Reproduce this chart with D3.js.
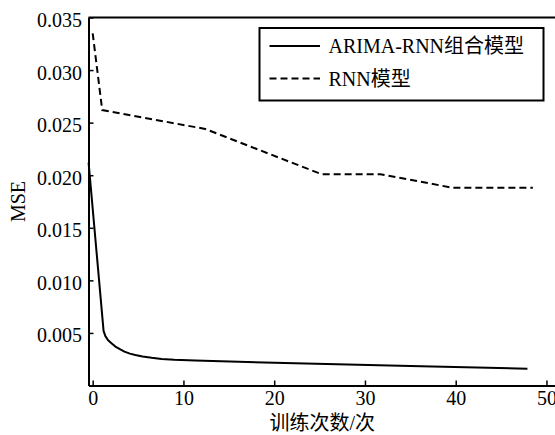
<!DOCTYPE html>
<html>
<head>
<meta charset="utf-8">
<script src="https://cdn.jsdelivr.net/npm/d3@7"></script>
<style>
  html, body { margin: 0; padding: 0; background: #fff; }
  svg { display: block; }
  text { font-family: "Liberation Serif", "Noto Sans CJK SC", serif; fill: #000; }
</style>
</head>
<body>
<svg id="chart" width="555" height="435"></svg>
<script>
// Training epochs and MSE for the combined model (solid line)
const comboEpochs = [-0.45, 1.2, 1.4, 1.7, 2.1, 2.5, 3.0, 3.5, 4.1, 4.7, 5.5, 6.5, 7.6, 9, 11.3, 22.3, 35, 47.9];
const comboMSE    = [0.0212, 0.0052, 0.0047, 0.0043, 0.0040, 0.0037, 0.00345, 0.00322, 0.00303, 0.0029, 0.00276, 0.00263, 0.00253, 0.00245, 0.00237, 0.00211, 0.00186, 0.0016];

// Training epochs and MSE for the plain RNN model (dashed line)
const rnnEpochs = [0, 1.05, 12.4, 25.2, 31.7, 39.7, 48.5];
const rnnMSE    = [0.0335, 0.0262, 0.0244, 0.0201, 0.0201, 0.0188, 0.0188];

const xTicks = [0, 10, 20, 30, 40, 50];
const yTicks = [0.005, 0.010, 0.015, 0.020, 0.025, 0.030, 0.035];

const legendLabels = ["ARIMA-RNN组合模型", "RNN模型"];
const xTitle = "训练次数/次";
const yTitle = "MSE";

const svg = d3.select("#chart");
const plotLeft = 88.5, plotRight = 556, plotTop = 17.5, plotBottom = 385.5;
const serif = '"Liberation Serif", "Noto Sans CJK SC", serif';

const x = d3.scaleLinear().domain([-0.46, 51.05]).range([plotLeft, plotRight]);
const y = d3.scaleLinear().domain([0, 0.035]).range([plotBottom, plotTop]);

// Axes with inward ticks
const xAxis = d3.axisBottom(x).tickValues(xTicks).tickSizeInner(-5).tickSizeOuter(0).tickFormat(d3.format("d"));
const yAxis = d3.axisLeft(y).tickValues(yTicks).tickSizeInner(-5).tickSizeOuter(0).tickFormat(d3.format(".3f"));

const gx = svg.append("g").attr("transform", `translate(0,${plotBottom})`).call(xAxis);
const gy = svg.append("g").attr("transform", `translate(${plotLeft},0)`).call(yAxis);

[gx, gy].forEach(g => {
  g.attr("font-family", serif).attr("font-size", 20);
  g.select(".domain").attr("stroke", "#000").attr("stroke-width", 2);
  g.selectAll(".tick line").attr("stroke", "#000").attr("stroke-width", 1.5);
  g.selectAll(".tick text").attr("fill", "#000").attr("font-family", serif).attr("font-size", 20);
});
gx.selectAll(".tick text").attr("y", 0).attr("dy", 0).attr("transform", "translate(0,19.5)");
gy.selectAll(".tick text").attr("x", -6.5).attr("dy", 0).attr("transform", "translate(0,9)");

// top border of the frame
svg.append("line")
  .attr("x1", plotLeft).attr("x2", plotRight + 2)
  .attr("y1", plotTop).attr("y2", plotTop)
  .attr("stroke", "#000").attr("stroke-width", 2);

// data lines
const combo = comboEpochs.map((e, i) => [e, comboMSE[i]]);
const rnn = rnnEpochs.map((e, i) => [e, rnnMSE[i]]);

const line = d3.line().x(d => x(d[0])).y(d => y(d[1]));

svg.append("path").datum(combo).attr("d", line)
  .attr("fill", "none").attr("stroke", "#000").attr("stroke-width", 2)
  .attr("stroke-linejoin", "round");
svg.append("path").datum(rnn).attr("d", line)
  .attr("fill", "none").attr("stroke", "#000").attr("stroke-width", 2)
  .attr("stroke-dasharray", "7,4");

// legend
const lg = svg.append("g");
lg.append("rect").attr("x", 259.5).attr("y", 28).attr("width", 284).attr("height", 72.5)
  .attr("fill", "#fff").attr("stroke", "#000").attr("stroke-width", 2);
const rows = [{ y: 46, dash: null }, { y: 78.5, dash: "7,4" }];
rows.forEach((r, i) => {
  lg.append("line").attr("x1", 269.5).attr("x2", 320).attr("y1", r.y).attr("y2", r.y)
    .attr("stroke", "#000").attr("stroke-width", 2)
    .attr("stroke-dasharray", r.dash);
  lg.append("text").attr("x", 328.5).attr("y", r.y + 7).attr("font-size", 20).text(legendLabels[i]);
});

// axis titles
svg.append("text").attr("x", (plotLeft + plotRight) / 2).attr("y", 430)
  .attr("text-anchor", "middle").attr("font-size", 20).text(xTitle);
svg.append("text").attr("transform", `translate(25,${(plotTop + plotBottom) / 2}) rotate(-90)`)
  .attr("text-anchor", "middle").attr("font-size", 20).text(yTitle);
</script>
</body>
</html>
